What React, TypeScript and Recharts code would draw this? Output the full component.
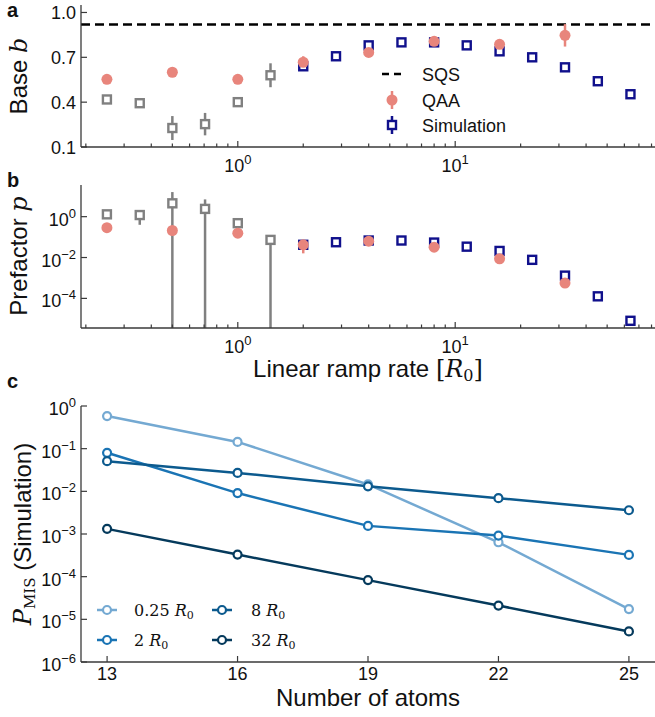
import React from "react";
import {
  ErrorBar,
  Line,
  LineChart,
  ReferenceLine,
  Scatter,
  ScatterChart,
  XAxis,
  YAxis
} from "recharts";

const SANS = "'Liberation Sans', Arial, Helvetica, sans-serif";
const SERIF = "'DejaVu Serif', 'Liberation Serif', serif";

const GRAY = "#808080";
const SALMON = "#e8857c";
const NAVY = "#10108c";
const AXIS = "#3a3a3a";
const INK = "#111";

// ramp rates [R0]
const rampGray = [0.25, 0.354, 0.5, 0.707, 1, 1.414];
const rampSim = [2, 2.83, 4, 5.66, 8, 11.3, 16, 22.6, 32, 45.3, 64];
const rampQaa = [0.25, 0.5, 1, 2, 4, 8, 16, 32];
const rampTicks = [
  0.2, 0.3, 0.4, 0.5, 0.6, 0.7, 0.8, 0.9, 1, 2, 3, 4, 5, 6, 7, 8, 9, 10, 20,
  30, 40, 50, 60, 70, 80
];
const rampMajor = [1, 10];

// (a) base b
const sqsBase = 0.92;
const baseTicks = [0.1, 0.4, 0.7, 1.0];
const baseGray = [0.418, 0.393, 0.227, 0.253, 0.4, 0.58];
const baseGrayErr = [0.012, 0.012, 0.08, 0.075, 0.02, 0.08];
const baseSim = [0.64, 0.707, 0.78, 0.8, 0.8, 0.78, 0.74, 0.7, 0.633, 0.54, 0.453];
const baseSimErr = [0.01, 0.01, 0.01, 0.01, 0.01, 0.01, 0.01, 0.01, 0.01, 0.01, 0.01];
const baseQaa = [0.553, 0.6, 0.553, 0.667, 0.733, 0.807, 0.787, 0.847];
const baseQaaErr = [0.015, 0.015, 0.015, 0.04, 0.02, 0.02, 0.02, 0.075];

// (b) prefactor p  (lower bound 0 = error bar runs below the axis)
const prefTicks = [1e-4, 1e-2, 1];
const prefGray = [1.3, 1.2, 4.5, 2.4, 0.48, 0.073];
const prefGrayLo = [1.0, 0.4, 0, 0, 0.38, 0];
const prefGrayHi = [1.7, 1.5, 16, 7, 0.6, 0.09];
const prefSim = [0.042, 0.056, 0.068, 0.068, 0.054, 0.034, 0.021, 0.0077, 0.0013, 1.26e-4, 8e-6];
const prefQaa = [0.29, 0.21, 0.155, 0.042, 0.063, 0.032, 0.0087, 5.6e-4];
const prefQaaLo = [0.25, 0.18, 0.13, 0.016, 0.055, 0.028, 0.0075, 4.5e-4];
const prefQaaHi = [0.33, 0.24, 0.18, 0.05, 0.072, 0.036, 0.01, 7e-4];

// (c) P_MIS vs number of atoms
const atoms = [13, 16, 19, 22, 25];
const pTicks = [1e-6, 1e-5, 1e-4, 1e-3, 1e-2, 1e-1, 1];
const p025 = [0.58, 0.144, 0.0145, 6.4e-4, 1.74e-5];
const p2 = [0.08, 0.0091, 0.00155, 9.2e-4, 3.24e-4];
const p8 = [0.051, 0.027, 0.0131, 0.0069, 0.0036];
const p32 = [0.00132, 3.3e-4, 8.3e-5, 2.1e-5, 5.2e-6];

const seriesC = [
  { key: "r025", label: "0.25", color: "#74a9d2", values: p025 },
  { key: "r2", label: "2", color: "#1a74b4", values: p2 },
  { key: "r8", label: "8", color: "#0c5a8e", values: p8 },
  { key: "r32", label: "32", color: "#053a5c", values: p32 }
];
// legend slots (column, row) in the same order as seriesC
const legendSlots = [
  [0, 0],
  [0, 1],
  [1, 0],
  [1, 1]
];

const rampDomain: [number, number] = [0.19, 83];
const prefDomain: [number, number] = [Math.pow(10, -5.45), Math.pow(10, 1.55)];

const MARGIN = 4;
const TICK_FONT = 18;
const SUP_FONT = 13;

const symErr = (xs: number[], ys: number[], es: number[]) =>
  xs.map((x, i) => ({ x, y: ys[i], err: es[i] }));

const bandErr = (xs: number[], ys: number[], lo: number[], hi: number[]) =>
  xs.map((x, i) => {
    const low = Math.max(lo[i], prefDomain[0]);
    return { x, y: ys[i], err: [ys[i] - low, hi[i] - ys[i]] };
  });

const squareShape = (color: string) => (p: any) => (
  <rect
    x={p.cx - 4}
    y={p.cy - 4}
    width={8}
    height={8}
    fill="#fff"
    stroke={color}
    strokeWidth={2.4}
  />
);

const dotShape = (p: any) => <circle cx={p.cx} cy={p.cy} r={5.5} fill={SALMON} />;

const expLabel = (v: number) => {
  const e = Math.round(Math.log10(v));
  return e < 0 ? "\u2212" + Math.abs(e) : String(e);
};

function BottomTick(props: any) {
  const { x = 0, y = 0, payload, major, log, labelDy } = props;
  const v = payload.value;
  const axisY = y - MARGIN;
  const isMajor = major ? major.includes(v) : true;
  return (
    <g>
      <line x1={x} x2={x} y1={axisY} y2={axisY - (isMajor ? 6 : 3.5)} stroke={AXIS} strokeWidth={1.2} />
      {isMajor && (
        <text x={x} y={axisY + labelDy} textAnchor="middle" fontSize={TICK_FONT} fill={INK} fontFamily={SANS}>
          {log ? "10" : v}
          {log && (
            <tspan dy={-8} fontSize={SUP_FONT}>
              {expLabel(v)}
            </tspan>
          )}
        </text>
      )}
    </g>
  );
}

function LeftTick(props: any) {
  const { x = 0, y = 0, payload, log } = props;
  const v = payload.value;
  const axisX = x + MARGIN;
  return (
    <g>
      <line x1={axisX} x2={axisX + 6} y1={y} y2={y} stroke={AXIS} strokeWidth={1.2} />
      {log ? (
        <text x={axisX - 5} y={y + 9} textAnchor="end" fontSize={TICK_FONT} fill={INK} fontFamily={SANS}>
          10
          <tspan dy={-8} fontSize={SUP_FONT}>
            {expLabel(v)}
          </tspan>
        </text>
      ) : (
        <text x={axisX - 5} y={y + 6.5} textAnchor="end" fontSize={TICK_FONT} fill={INK} fontFamily={SANS}>
          {v.toFixed(1)}
        </text>
      )}
    </g>
  );
}

const axisLine = { stroke: AXIS, strokeWidth: 1.3 };

export default function App() {
  const aGray = symErr(rampGray, baseGray, baseGrayErr);
  const aSim = symErr(rampSim, baseSim, baseSimErr);
  const aQaa = symErr(rampQaa, baseQaa, baseQaaErr);

  const bGray = bandErr(rampGray, prefGray, prefGrayLo, prefGrayHi);
  const bSim = rampSim.map((x, i) => ({ x, y: prefSim[i] }));
  const bQaa = bandErr(rampQaa, prefQaa, prefQaaLo, prefQaaHi);

  const cData = atoms.map((n, i) => {
    const row: Record<string, number> = { n };
    seriesC.forEach((s) => (row[s.key] = s.values[i]));
    return row;
  });

  return (
    <div
      style={{
        position: "absolute",
        left: 0,
        top: 0,
        width: 655,
        height: 717,
        background: "#fff",
        fontFamily: SANS
      }}
    >
      {/* panel a */}
      <div style={{ position: "absolute", left: 0, top: 0 }}>
        <ScatterChart width={655} height={180} margin={{ top: 5, right: 0, bottom: 0, left: 0 }}>
          <XAxis
            type="number"
            dataKey="x"
            scale="log"
            domain={rampDomain}
            allowDataOverflow
            ticks={rampTicks}
            interval={0}
            height={33}
            tickSize={0}
            tickMargin={MARGIN}
            tickLine={false}
            axisLine={axisLine}
            tick={<BottomTick major={rampMajor} log labelDy={25} />}
          />
          <YAxis
            type="number"
            dataKey="y"
            domain={[0.1, 1.05]}
            allowDataOverflow
            ticks={baseTicks}
            interval={0}
            width={81}
            tickSize={0}
            tickMargin={MARGIN}
            tickLine={false}
            axisLine={axisLine}
            tick={<LeftTick />}
          />
          <ReferenceLine y={sqsBase} stroke="#000" strokeWidth={2.5} strokeDasharray="9 5" />
          <Scatter data={aGray} shape={squareShape(GRAY)} isAnimationActive={false}>
            <ErrorBar dataKey="err" direction="y" width={0} stroke={GRAY} strokeWidth={2.5} />
          </Scatter>
          <Scatter data={aSim} shape={squareShape(NAVY)} isAnimationActive={false}>
            <ErrorBar dataKey="err" direction="y" width={0} stroke={NAVY} strokeWidth={2.5} />
          </Scatter>
          <Scatter data={aQaa} shape={dotShape} isAnimationActive={false}>
            <ErrorBar dataKey="err" direction="y" width={0} stroke={SALMON} strokeWidth={2.5} />
          </Scatter>
        </ScatterChart>
      </div>

      {/* panel b */}
      <div style={{ position: "absolute", left: 0, top: 175 }}>
        <ScatterChart width={655} height={200} margin={{ top: 10, right: 0, bottom: 0, left: 0 }}>
          <XAxis
            type="number"
            dataKey="x"
            scale="log"
            domain={rampDomain}
            allowDataOverflow
            ticks={rampTicks}
            interval={0}
            height={47}
            tickSize={0}
            tickMargin={MARGIN}
            tickLine={false}
            axisLine={axisLine}
            tick={<BottomTick major={rampMajor} log labelDy={25} />}
          />
          <YAxis
            type="number"
            dataKey="y"
            scale="log"
            domain={prefDomain}
            allowDataOverflow
            ticks={prefTicks}
            interval={0}
            width={81}
            tickSize={0}
            tickMargin={MARGIN}
            tickLine={false}
            axisLine={axisLine}
            tick={<LeftTick log />}
          />
          <Scatter data={bGray} shape={squareShape(GRAY)} isAnimationActive={false}>
            <ErrorBar dataKey="err" direction="y" width={0} stroke={GRAY} strokeWidth={2.5} />
          </Scatter>
          <Scatter data={bSim} shape={squareShape(NAVY)} isAnimationActive={false} />
          <Scatter data={bQaa} shape={dotShape} isAnimationActive={false}>
            <ErrorBar dataKey="err" direction="y" width={0} stroke={SALMON} strokeWidth={2.5} />
          </Scatter>
        </ScatterChart>
      </div>

      {/* panel c */}
      <div style={{ position: "absolute", left: 0, top: 380 }}>
        <LineChart width={655} height={337} data={cData} margin={{ top: 26, right: 0, bottom: 0, left: 0 }}>
          <XAxis
            type="number"
            dataKey="n"
            domain={[12.4, 25.6]}
            allowDataOverflow
            ticks={atoms}
            interval={0}
            height={55}
            tickSize={0}
            tickMargin={MARGIN}
            tickLine={false}
            axisLine={axisLine}
            tick={<BottomTick labelDy={18} />}
          />
          <YAxis
            type="number"
            scale="log"
            domain={[1e-6, 1]}
            allowDataOverflow
            ticks={pTicks}
            interval={0}
            width={81}
            tickSize={0}
            tickMargin={MARGIN}
            tickLine={false}
            axisLine={axisLine}
            tick={<LeftTick log />}
          />
          {seriesC.map((s) => (
            <Line
              key={s.key}
              dataKey={s.key}
              stroke={s.color}
              strokeWidth={2.5}
              dot={{ r: 4, fill: "#fff", stroke: s.color, strokeWidth: 2.2 }}
              activeDot={false}
              isAnimationActive={false}
            />
          ))}
        </LineChart>
      </div>

      {/* titles, panel letters, legends */}
      <svg
        width={655}
        height={717}
        style={{ position: "absolute", left: 0, top: 0, pointerEvents: "none" }}
        fontFamily={SANS}
      >
        <text x={7} y={17} fontSize={20} fontWeight="bold" fill={INK}>a</text>
        <text x={7} y={187} fontSize={20} fontWeight="bold" fill={INK}>b</text>
        <text x={7} y={388} fontSize={20} fontWeight="bold" fill={INK}>c</text>

        <text transform="translate(27,76) rotate(-90)" textAnchor="middle" fontSize={24} fill={INK}>
          Base <tspan fontFamily={SERIF} fontStyle="italic">b</tspan>
        </text>
        <text transform="translate(27,256) rotate(-90)" textAnchor="middle" fontSize={24} fill={INK}>
          Prefactor <tspan fontFamily={SERIF} fontStyle="italic">p</tspan>
        </text>
        <text transform="translate(31,534) rotate(-90)" textAnchor="middle" fontSize={24} fill={INK}>
          <tspan fontFamily={SERIF} fontStyle="italic">P</tspan>
          <tspan fontFamily={SERIF} fontSize={15} dy={4}>MIS</tspan>
          <tspan dy={-4}> (Simulation)</tspan>
        </text>

        <text x={368} y={377} textAnchor="middle" fontSize={24} fill={INK}>
          Linear ramp rate <tspan fontFamily={SERIF}>[</tspan>
          <tspan fontFamily={SERIF} fontStyle="italic">R</tspan>
          <tspan fontFamily={SERIF} fontSize={16} dy={4}>0</tspan>
          <tspan fontFamily={SERIF} dy={-4}>]</tspan>
        </text>
        <text x={368} y={706} textAnchor="middle" fontSize={24} fill={INK}>
          Number of atoms
        </text>

        {/* legend a */}
        <line x1={382} x2={403} y1={74} y2={74} stroke="#000" strokeWidth={2.5} strokeDasharray="7 5" />
        <text x={422} y={80.5} fontSize={18} fill={INK}>SQS</text>
        <line x1={392} x2={392} y1={91} y2={109} stroke={SALMON} strokeWidth={2.5} />
        <circle cx={392} cy={100} r={5.5} fill={SALMON} />
        <text x={422} y={106.5} fontSize={18} fill={INK}>QAA</text>
        <line x1={392} x2={392} y1={116} y2={134} stroke={NAVY} strokeWidth={2.5} />
        <rect x={388} y={121} width={8} height={8} fill="#fff" stroke={NAVY} strokeWidth={2.4} />
        <text x={422} y={131.5} fontSize={18} fill={INK}>Simulation</text>

        {/* legend c */}
        {seriesC.map((s, i) => {
          const [col, row] = legendSlots[i];
          const cx = col === 0 ? 107 : 222;
          const cy = row === 0 ? 610 : 640;
          const tx = col === 0 ? 134 : 251;
          return (
            <g key={s.key}>
              <line x1={cx - 10} x2={cx + 10} y1={cy} y2={cy} stroke={s.color} strokeWidth={2.5} />
              <circle cx={cx} cy={cy} r={4} fill="#fff" stroke={s.color} strokeWidth={2.2} />
              <text x={tx} y={cy + 6} fontSize={16} fontFamily={SERIF} fill={INK}>
                {s.label} <tspan fontStyle="italic">R</tspan>
                <tspan fontSize={11} dy={3}>0</tspan>
              </text>
            </g>
          );
        })}
      </svg>
    </div>
  );
}
